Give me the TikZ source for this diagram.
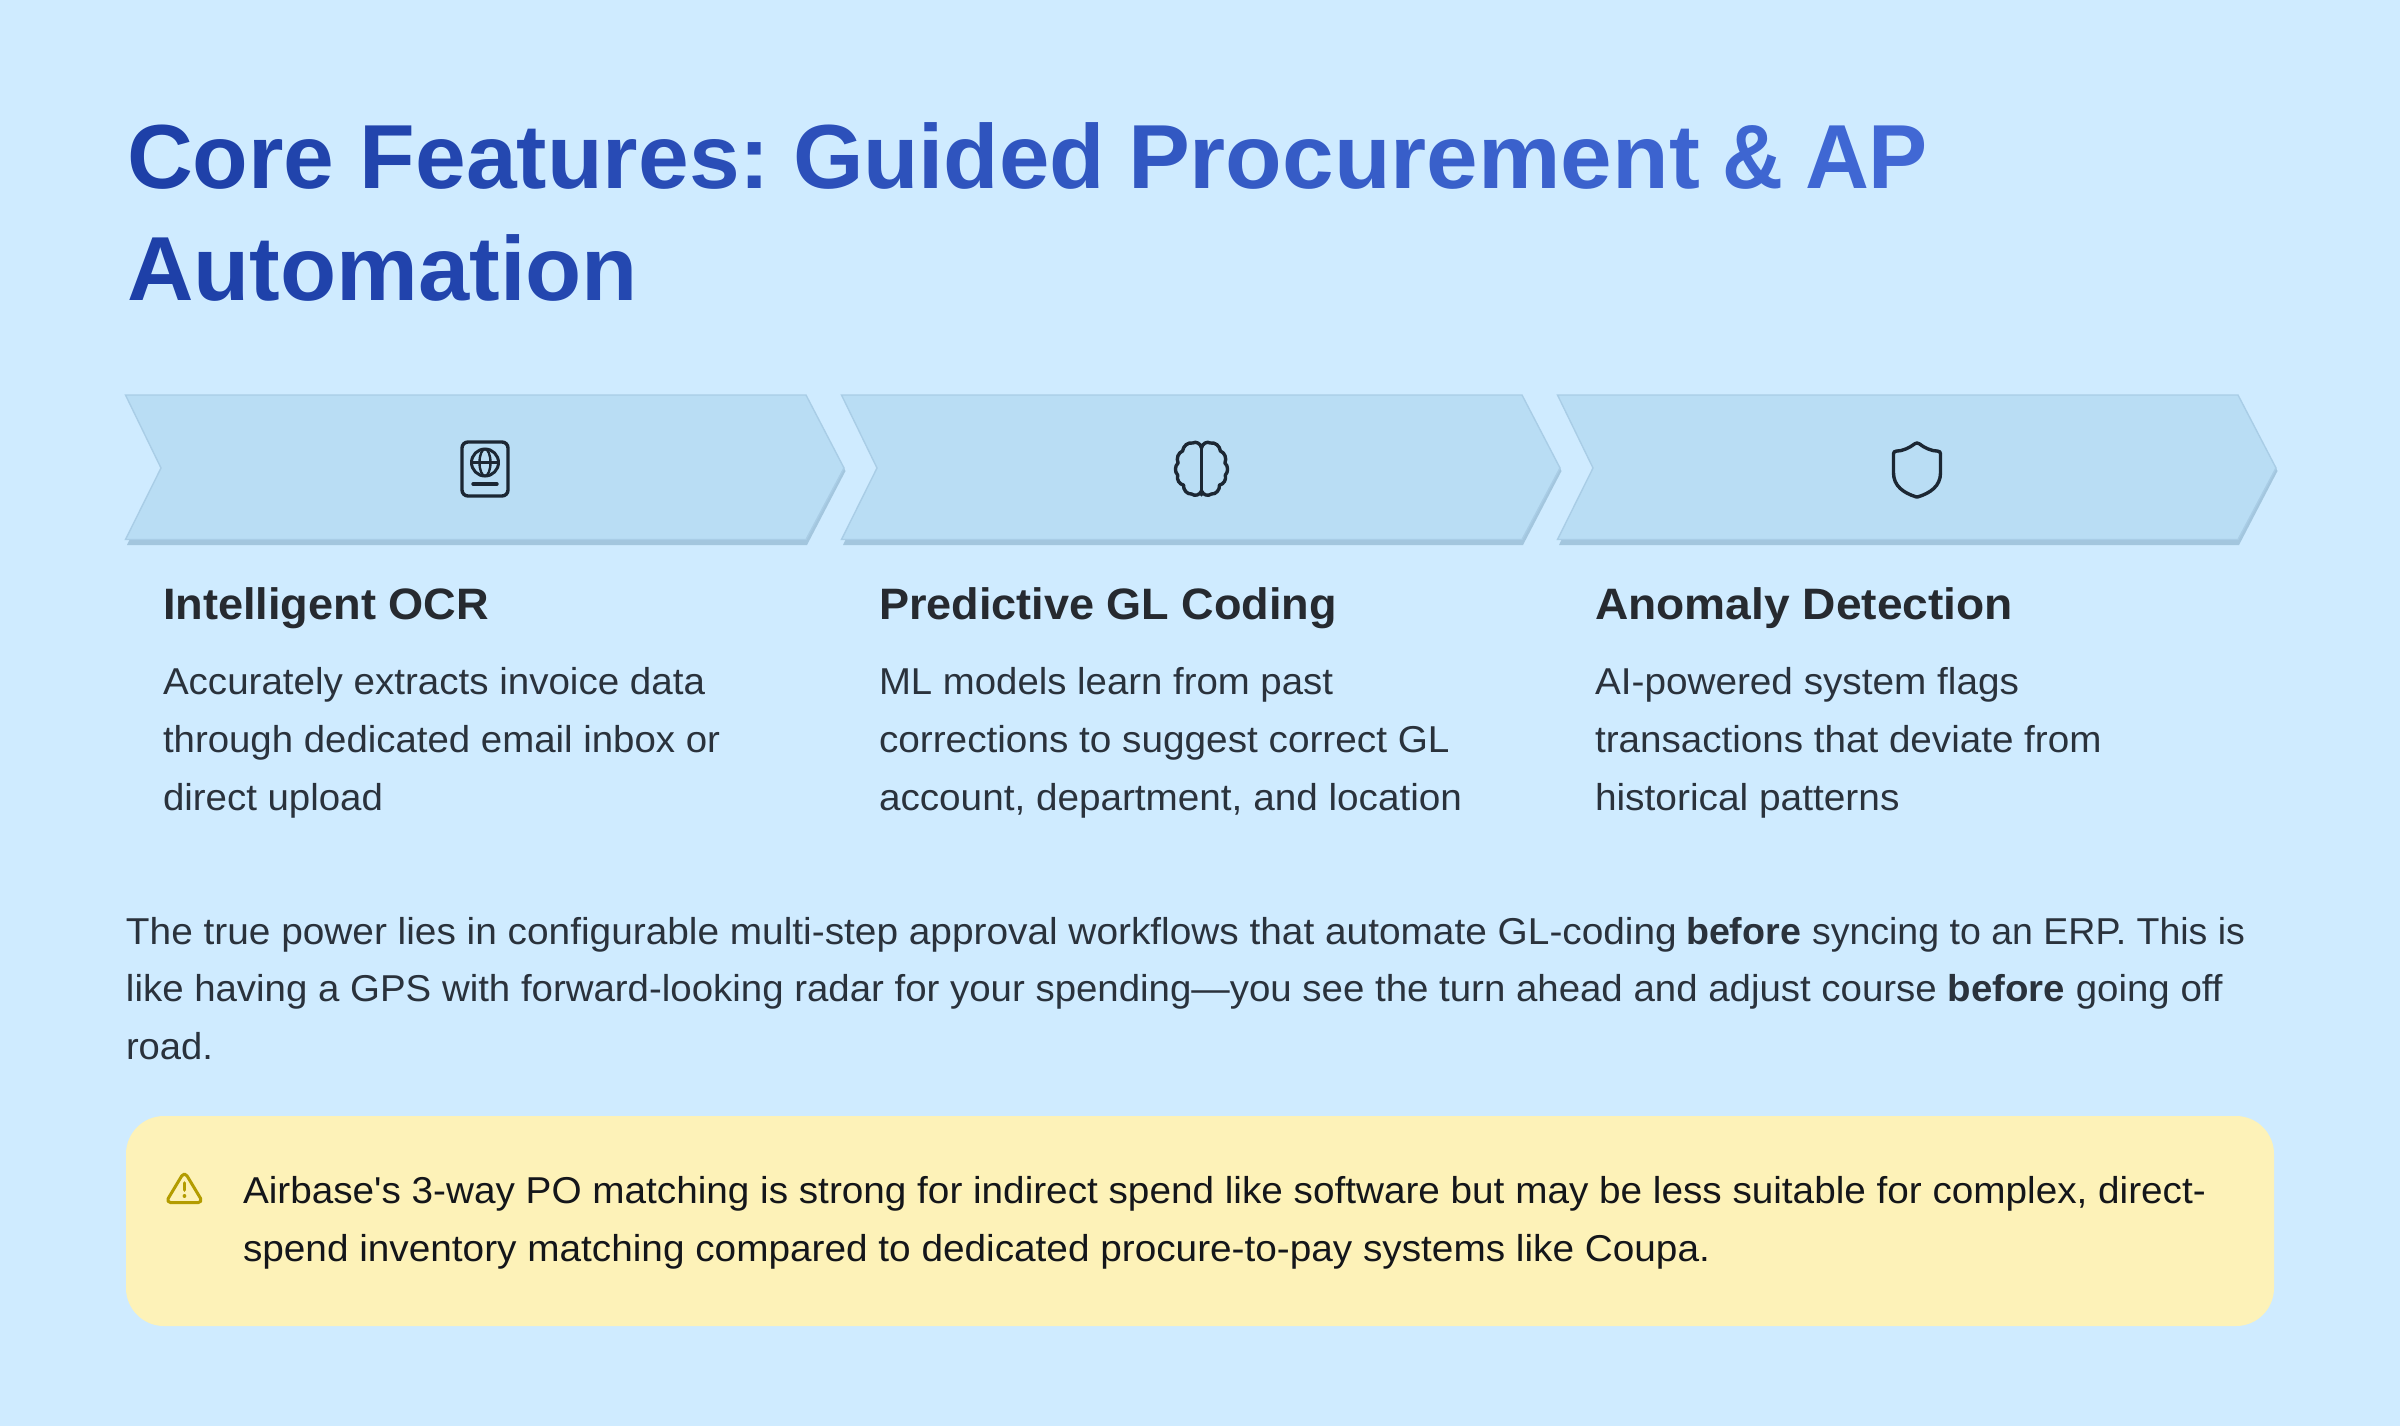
\documentclass[tikz,border=0pt]{standalone}
\usepackage{fontspec}
\usepackage{graphicx}
\setmainfont{Liberation Sans}
\definecolor{bgc}{HTML}{CFEBFF}
\definecolor{chev}{HTML}{B9DDF4}
\definecolor{chevedge}{HTML}{A9CDE6}
\definecolor{chevshade}{HTML}{A3C6DE}
\definecolor{tstart}{HTML}{1E40A8}
\definecolor{tend}{HTML}{426AD6}
\definecolor{headc}{HTML}{262A30}
\definecolor{bodyc}{HTML}{2A323C}
\definecolor{iconc}{HTML}{1C2733}
\definecolor{noteb}{HTML}{FDF2B8}
\definecolor{notei}{HTML}{B39C00}
\definecolor{notet}{HTML}{14161A}
\newcount\gcnt
\def\gw#1{\gloop#1\relax}
\def\gloop#1{\ifx#1\relax\else\textcolor{tend!\the\gcnt!tstart}{#1}\global\advance\gcnt by \gstep\expandafter\gloop\fi}
\def\gstep{3}
\newcommand{\txtline}[6]{\node[txt,#5] (#1) at (#2,#3) {\resizebox{\fpeval{(#4-#2)*0.5}pt}{\height}{#6}};}
\tikzset{
  txt/.style={anchor=base west,inner sep=0pt,outer sep=0pt},
  titletxt/.style={font=\fontsize{45.5}{50}\selectfont\bfseries},
  headtxt/.style={font=\fontsize{22}{26}\selectfont\bfseries,text=headc},
  bodytxt/.style={font=\fontsize{18.7}{26}\selectfont,text=bodyc},
  notetxt/.style={font=\fontsize{18.7}{26}\selectfont,text=notet},
  icon/.style={draw=iconc,line width=1.7pt,line cap=round,line join=round},
  warn/.style={draw=notei,line width=1.5pt,line cap=round,line join=round},
  chevmain/.style={fill=chev,draw=chevedge,line width=0.7pt,line join=miter},
  chevshadow/.style={fill=chevshade},
  chevpath/.pic={
    \path[chevshadow] (1.5,3)--(681.5,3)--(720,76)--(681.5,150)--(1.5,150)--(37,76)--cycle;
    \path[chevmain] (0,0)--(680.5,0)--(718.5,73)--(680.5,144.5)--(0,144.5)--(35.5,73)--cycle;
  }
}
\begin{document}
\begin{tikzpicture}[x=0.5pt,y=-0.5pt]
\path[fill=bgc,use as bounding box] (0,0) rectangle (2400,1426);

% title
\global\gcnt=0
\txtline{t1a}{127}{188}{770}{titletxt}{\gw{Core}\ \gw{Features:}}
\txtline{t1b}{793}{188}{1105}{titletxt}{\gw{Guided}}
\txtline{t1c}{1128}{188}{1700}{titletxt}{\gw{Procurement}}
\txtline{t1d}{1722}{188}{1783}{titletxt}{\gw{\&}}
\txtline{t1e}{1805}{188}{1928}{titletxt}{\gw{AP}}
\global\gcnt=0 \def\gstep{2}
\txtline{t2}{127}{300}{638}{titletxt}{\gw{Automation}}

% chevrons
\pic at (125.5,395) {chevpath};
\pic at (841.5,395) {chevpath};
\pic at (1557.5,395) {chevpath};

% passport icon
\draw[icon] (462,442) [rounded corners=3pt] rectangle (508,496);
\draw[icon,line width=1.5pt] (485,462.5) circle [radius=13.5];
\draw[icon,line width=1.2pt] (485,462.5) ellipse [x radius=5.5,y radius=13.5];
\draw[icon,line width=1.2pt] (471.5,462.5) -- (498.5,462.5);
\draw[icon] (473,484) -- (497,484);

% brain icon
\begin{scope}[shift={(1201.5,469)}]
  \foreach \sx in {-0.9,0.9}{
    \begin{scope}[xscale=\sx]
      \draw[icon] (0,-21) to[bend left=55] (10,-26) to[bend left=45] (21,-18)
        to[bend left=50] (26,-6) to[bend left=50] (26.5,6)
        to[bend left=50] (20,16) to[bend left=50] (11,25) to[bend left=50] (0,22);
    \end{scope}
  }
  \draw[icon] (0,-21) -- (0,26);
\end{scope}

% shield icon
\begin{scope}[shift={(1917,443)},x=1.47pt,y=-1.35pt]
  \draw[icon] (8,11) .. controls (8,16) and (4.5,18.5) .. (0.34,19.95)
    .. controls (0.1,20) and (-0.1,20) .. (-0.33,19.94)
    .. controls (-4.5,18.5) and (-8,16) .. (-8,11)
    -- (-8,4) .. controls (-8,3.4) and (-7.6,3) .. (-7,3)
    .. controls (-5,3) and (-2.5,1.8) .. (-0.76,0.28)
    .. controls (-0.3,-0.1) and (0.3,-0.1) .. (0.76,0.28)
    .. controls (2.51,1.81) and (5,3) .. (7,3)
    .. controls (7.6,3) and (8,3.4) .. (8,4) -- cycle;
\end{scope}

% columns
\txtline{h1}{163}{619}{489}{headtxt}{Intelligent OCR}
\txtline{b11}{163}{694.5}{705}{bodytxt}{Accurately extracts invoice data}
\txtline{b12}{163}{752.5}{720}{bodytxt}{through dedicated email inbox or}
\txtline{b13}{163}{810.5}{383}{bodytxt}{direct upload}

\txtline{h2}{879}{619}{1337}{headtxt}{Predictive GL Coding}
\txtline{b21}{879}{694.5}{1333}{bodytxt}{ML models learn from past}
\txtline{b22}{879}{752.5}{1449.5}{bodytxt}{corrections to suggest correct GL}
\txtline{b23}{879}{810.5}{1462}{bodytxt}{account, department, and location}

\txtline{h3}{1595}{619}{2013}{headtxt}{Anomaly Detection}
\txtline{b31}{1595}{694.5}{2019}{bodytxt}{AI-powered system flags}
\txtline{b32}{1595}{752.5}{2101.5}{bodytxt}{transactions that deviate from}
\txtline{b33}{1595}{810.5}{1899.5}{bodytxt}{historical patterns}

% paragraph
\txtline{p1a}{126}{944.5}{1677}{bodytxt}{The true power lies in configurable multi-step approval workflows that automate GL-coding}
\txtline{p1b}{1686}{944.5}{1801}{bodytxt}{\textbf{before}}
\txtline{p1c}{1812}{944.5}{2245}{bodytxt}{syncing to an ERP. This is}
\txtline{p2}{126}{1001.5}{2222.5}{bodytxt}{like having a GPS with forward-looking radar for your spending—you see the turn ahead and adjust course \textbf{before} going off}
\txtline{p3}{126}{1059.5}{213}{bodytxt}{road.}

% callout
\fill[noteb] (126,1116) [rounded corners=19pt] rectangle (2274,1326);
\draw[warn] (184.4,1174) .. controls (185.5,1174) and (186.3,1174.6) .. (187,1175.8)
  -- (200.6,1198.4) .. controls (201.8,1200.4) and (200.6,1202.6) .. (198.2,1202.6)
  -- (170.6,1202.6) .. controls (168.2,1202.6) and (167,1200.4) .. (168.2,1198.4)
  -- (181.8,1175.8) .. controls (182.5,1174.6) and (183.3,1174) .. cycle;
\draw[warn,line width=1.8pt] (184.4,1183) -- (184.4,1190);
\draw[warn,line width=1.8pt] (184.4,1196) -- (184.5,1196);
\txtline{n1}{243}{1203}{2206}{notetxt}{Airbase\textquotesingle s 3-way PO matching is strong for indirect spend like software but may be less suitable for complex, direct-}
\txtline{n2}{243}{1261}{1710}{notetxt}{spend inventory matching compared to dedicated procure-to-pay systems like Coupa.}
\end{tikzpicture}
\end{document}
